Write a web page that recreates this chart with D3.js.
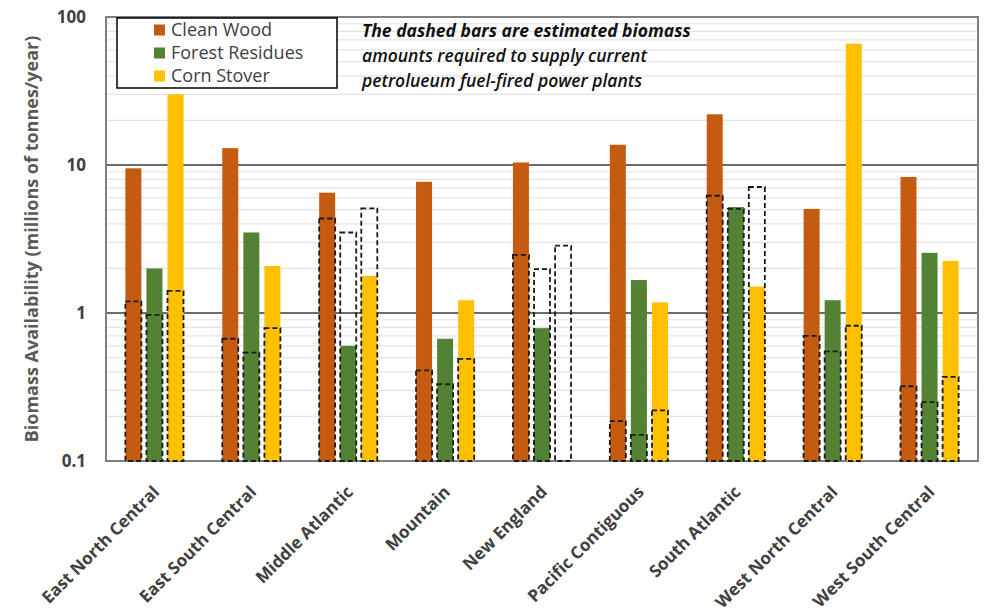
<!DOCTYPE html>
<html>
<head>
<meta charset="utf-8">
<script src="https://cdn.jsdelivr.net/npm/d3@7"></script>
<style>
  html, body { margin: 0; padding: 0; background: #fff; }
  svg { display: block; }
  text { font-family: "Open Sans", "Liberation Sans", sans-serif; }
</style>
</head>
<body>
<svg id="chart" width="989" height="613"></svg>
<script>
// Census regions along the x axis
const regions = ["East North Central", "East South Central", "Middle Atlantic", "Mountain",
  "New England", "Pacific Contiguous", "South Atlantic", "West North Central", "West South Central"];

// Feedstock series
const feedstocks = ["Clean Wood", "Forest Residues", "Corn Stover"];
const feedColors = ["#C55A11", "#548235", "#FFC000"];

// Available biomass, millions of tonnes per year (null = none reported)
const cleanWood      = [9.5, 13.0, 6.5, 7.7, 10.4, 13.7, 22.0, 5.05, 8.3];
const forestResidues = [2.0, 3.5, 0.60, 0.67, 0.79, 1.67, 5.2, 1.22, 2.55];
const cornStover     = [30, 2.08, 1.78, 1.22, null, 1.18, 1.51, 66, 2.25];

// Biomass required to supply current petroleum-fired power plants (dashed bars)
const reqCleanWood      = [1.2, 0.67, 4.35, 0.41, 2.47, 0.186, 6.2, 0.70, 0.32];
const reqForestResidues = [0.97, 0.54, 3.5, 0.33, 1.98, 0.15, 5.05, 0.55, 0.25];
const reqCornStover     = [1.41, 0.79, 5.1, 0.49, 2.85, 0.22, 7.1, 0.82, 0.37];

// Axis ticks
const yTicks = [0.1, 1, 10, 100];
const yTickLabels = ["0.1", "1", "10", "100"];

const available = [cleanWood, forestResidues, cornStover];
const required = [reqCleanWood, reqForestResidues, reqCornStover];

const svg = d3.select("#chart");
const plot = { left: 106, right: 978, top: 17, bottom: 461 };

const y = d3.scaleLog().domain([0.1, 100]).range([plot.bottom, plot.top]);
const x0 = d3.scaleBand().domain(regions).range([plot.left, plot.right]).padding(0);
const groupW = x0.bandwidth() * 0.6;
const x1 = d3.scaleBand().domain(feedstocks)
  .range([(x0.bandwidth() - groupW) / 2, (x0.bandwidth() + groupW) / 2])
  .paddingInner(0.24).paddingOuter(0);
const color = d3.scaleOrdinal().domain(feedstocks).range(feedColors);

// Minor gridlines for every 2..9 in each decade
const minor = [];
for (let e = -1; e < 2; e++) for (let m = 2; m <= 9; m++) minor.push(m * Math.pow(10, e));
svg.append("g").selectAll("line").data(minor).join("line")
  .attr("x1", plot.left).attr("x2", plot.right)
  .attr("y1", d => y(d)).attr("y2", d => y(d))
  .attr("stroke", "#e4e4e4").attr("stroke-width", 1.2);

// Major gridlines
svg.append("g").selectAll("line").data(yTicks.slice(1, 3)).join("line")
  .attr("x1", plot.left).attr("x2", plot.right)
  .attr("y1", d => y(d)).attr("y2", d => y(d))
  .attr("stroke", "#6b6b6b").attr("stroke-width", 2);

// Plot frame
svg.append("rect")
  .attr("x", plot.left).attr("y", plot.top)
  .attr("width", plot.right - plot.left).attr("height", plot.bottom - plot.top)
  .attr("fill", "none").attr("stroke", "#7f7f7f").attr("stroke-width", 2);

// Solid bars: availability
const rows = [];
regions.forEach((r, i) => feedstocks.forEach((f, j) => {
  rows.push({ region: r, feed: f, avail: available[j][i], req: required[j][i] });
}));

const gBars = svg.append("g");
gBars.selectAll("rect.avail").data(rows.filter(d => d.avail != null)).join("rect")
  .attr("class", "avail")
  .attr("x", d => x0(d.region) + x1(d.feed))
  .attr("width", x1.bandwidth())
  .attr("y", d => y(d.avail))
  .attr("height", d => y(0.1) - y(d.avail))
  .attr("fill", d => color(d.feed));

// Dashed outlines: required amounts
gBars.selectAll("rect.req").data(rows.filter(d => d.req != null)).join("rect")
  .attr("class", "req")
  .attr("x", d => x0(d.region) + x1(d.feed))
  .attr("width", x1.bandwidth())
  .attr("y", d => y(d.req))
  .attr("height", d => y(0.1) - y(d.req))
  .attr("fill", "none")
  .attr("stroke", "#1a1a1a").attr("stroke-width", 1.8)
  .attr("stroke-dasharray", "5,3");

// Y axis labels
const yAxis = d3.axisLeft(y).tickValues(yTicks)
  .tickFormat((d, i) => yTickLabels[i]).tickSize(0).tickPadding(0);
const gy = svg.append("g").attr("transform", `translate(${plot.left - 20},0)`).call(yAxis);
gy.select(".domain").remove();
gy.selectAll("text")
  .attr("font-family", "'Open Sans', sans-serif")
  .attr("font-size", 17).attr("font-weight", 700).attr("fill", "#404040")
  .attr("dy", "0.35em");

// Y axis title
svg.append("text")
  .attr("transform", `translate(38,${(plot.top + plot.bottom) / 2}) rotate(-90)`)
  .attr("text-anchor", "middle")
  .attr("font-size", 18).attr("font-weight", 700).attr("fill", "#595959")
  .text("Biomass Availability (millions of tonnes/year)");

// X axis labels, rotated
const xAxis = d3.axisBottom(x0).tickSize(0).tickPadding(0);
const gx = svg.append("g").attr("transform", `translate(0,${plot.bottom})`).call(xAxis);
gx.select(".domain").remove();
gx.selectAll("text")
  .attr("font-family", "'Open Sans', sans-serif")
  .attr("font-size", 17).attr("font-weight", 700).attr("fill", "#404040")
  .attr("text-anchor", "end")
  .attr("transform", "translate(6,32) rotate(-45)")
  .attr("dy", "0");

// Legend
const legend = svg.append("g");
legend.append("rect")
  .attr("x", 117).attr("y", 18).attr("width", 220).attr("height", 70)
  .attr("fill", "#fff").attr("stroke", "#000").attr("stroke-width", 1.5);
const li = legend.selectAll("g.item").data(feedstocks).join("g")
  .attr("class", "item")
  .attr("transform", (d, i) => `translate(154,${30 + i * 23})`);
li.append("rect").attr("x", 0).attr("y", -5.5).attr("width", 11).attr("height", 11)
  .attr("fill", d => color(d));
li.append("text").attr("x", 17).attr("y", 0).attr("dy", "0.35em")
  .attr("font-size", 18).attr("fill", "#404040")
  .text(d => d);

// Note about the dashed bars
const note = ["The dashed bars are estimated biomass",
  "amounts required to supply current",
  "petrolueum fuel-fired power plants"];
svg.append("g").selectAll("text").data(note).join("text")
  .attr("x", 362).attr("y", (d, i) => 37 + i * 25)
  .attr("font-size", 17.5).attr("font-style", "italic")
  .attr("font-weight", (d, i) => i === 0 ? 700 : 600)
  .attr("fill", "#111")
  .text(d => d);
</script>
</body>
</html>
